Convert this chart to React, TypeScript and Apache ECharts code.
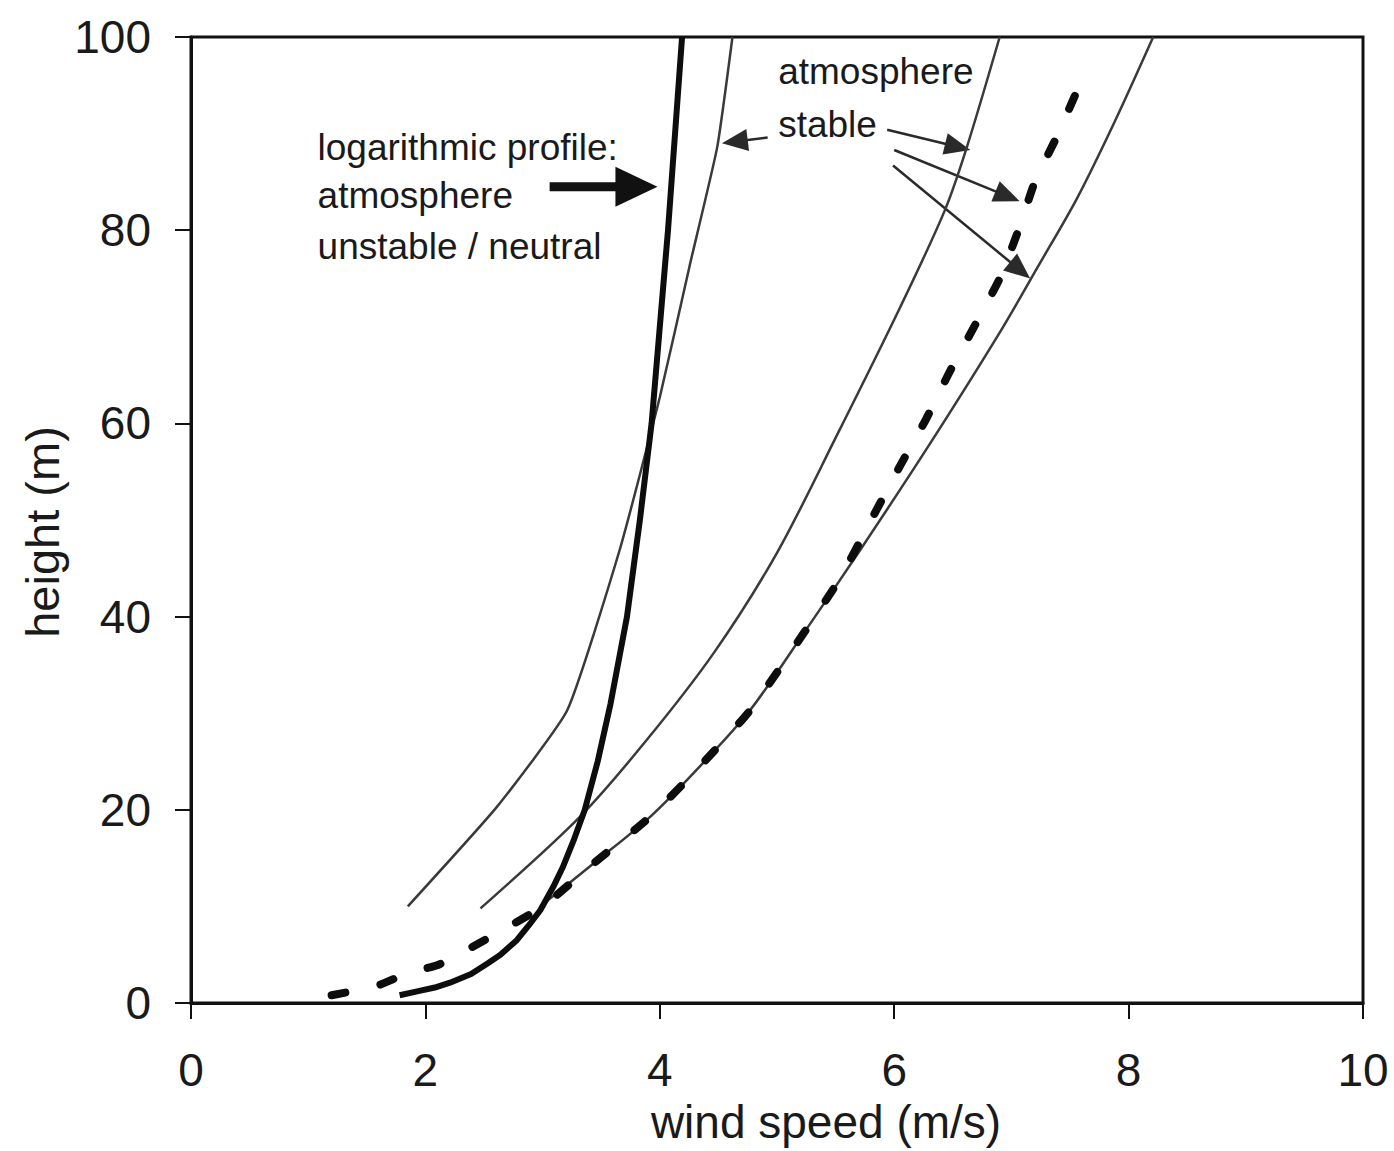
import React, { useEffect, useRef } from "react";
import * as echarts from "echarts";

// Logarithmic profile (unstable / neutral atmosphere)
const logSpeed = [1.78, 1.93, 2.08, 2.21, 2.39, 2.53, 2.64, 2.78, 2.88, 2.98, 3.09, 3.17, 3.27, 3.36, 3.47, 3.58, 3.72, 3.83, 3.93, 4.0, 4.07, 4.13, 4.19];
const logHeight = [0.8, 1.2, 1.6, 2.1, 3, 4.1, 5, 6.5, 8, 9.6, 12, 14, 17, 20, 25, 31, 40, 50, 60, 70, 80, 90, 100];

// Stable atmosphere profiles
const stableASpeed = [1.85, 2.61, 3.21, 3.66, 4.0, 4.26, 4.49, 4.62];
const stableAHeight = [10, 20.3, 30.3, 47, 62.7, 76.6, 88.6, 100];

const stableBSpeed = [2.47, 3.32, 3.9, 4.47, 5.0, 5.5, 6.05, 6.43, 6.62, 6.9];
const stableBHeight = [9.8, 19.3, 27.4, 36.4, 46.6, 58.5, 72, 82, 88.6, 100];

const stableCSpeed = [2.98, 3.45, 3.92, 4.35, 4.77, 5.24, 5.71, 6.3, 6.9, 7.23, 7.56, 7.88, 8.21];
const stableCHeight = [10, 14.6, 19.3, 24.6, 30.3, 38.5, 46.9, 57.8, 69.4, 76.3, 83.3, 91.2, 100];

// Measured profile (dashed)
const measuredSpeed = [1.2, 1.59, 1.87, 2.1, 2.31, 2.62, 3.0, 3.45, 3.92, 4.35, 4.77, 5.24, 5.54, 5.79, 6.05, 6.27, 6.48, 6.7, 6.9, 7.06, 7.2, 7.38, 7.57];
const measuredHeight = [0.8, 1.8, 3.2, 3.9, 5.2, 7.3, 10, 14.6, 19.3, 24.6, 30.3, 38.5, 44, 49.7, 55.6, 60.4, 65.5, 70.4, 75, 80, 85, 89.5, 94.7];

// Annotation texts and arrows, in data coordinates
const unstableLines = ["logarithmic profile:", "atmosphere", "unstable / neutral"];
const unstableTextX = 1.08;
const unstableTextY = [88.6, 83.6, 78.3];
const stableLines = ["atmosphere", "stable"];
const stableTextX = 5.01;
const stableTextY = [96.4, 90.9];

const thickArrow = { from: [3.06, 84.5], to: [3.98, 84.5] };
const thinArrows = [
  { from: [4.92, 89.6], to: [4.53, 89.0] },
  { from: [5.94, 90.4], to: [6.65, 88.3] },
  { from: [6.0, 88.3], to: [7.07, 83.0] },
  { from: [5.99, 86.7], to: [7.16, 75.0] },
];

const FONT = "'Liberation Sans', Arial, Helvetica, sans-serif";
const INK = "#1a1a1a";

const pairs = (xs: number[], ys: number[]) => xs.map((x, i) => [x, ys[i]]);

function arrowElements(
  p0: number[],
  p1: number[],
  width: number,
  headLen: number,
  headWidth: number,
  color: string
) {
  const dx = p1[0] - p0[0];
  const dy = p1[1] - p0[1];
  const len = Math.hypot(dx, dy) || 1;
  const ux = dx / len;
  const uy = dy / len;
  const bx = p1[0] - ux * headLen;
  const by = p1[1] - uy * headLen;
  const px = -uy * (headWidth / 2);
  const py = ux * (headWidth / 2);
  return [
    {
      type: "line",
      shape: { x1: p0[0], y1: p0[1], x2: bx + ux * 2, y2: by + uy * 2 },
      style: { stroke: color, lineWidth: width },
      silent: true,
    },
    {
      type: "polygon",
      shape: {
        points: [
          [p1[0], p1[1]],
          [bx + px, by + py],
          [bx - px, by - py],
        ],
      },
      style: { fill: color },
      silent: true,
    },
  ];
}

export default function App() {
  const ref = useRef<HTMLDivElement>(null);

  useEffect(() => {
    document.body.style.margin = "0";
    if (!ref.current) return;
    const chart = echarts.init(ref.current, null, { renderer: "svg" });

    const axisLabel = { fontSize: 46, color: INK, fontFamily: FONT };

    chart.setOption({
      animation: false,
      backgroundColor: "#ffffff",
      grid: {
        left: 191,
        right: 31,
        top: 37,
        bottom: 148,
        show: true,
        borderColor: "#111",
        borderWidth: 3,
        backgroundColor: "transparent",
      },
      xAxis: {
        type: "value",
        min: 0,
        max: 10,
        interval: 2,
        axisLine: { onZero: false, lineStyle: { color: "#111", width: 3 } },
        axisTick: { show: true, length: 16, lineStyle: { color: "#111", width: 2 } },
        axisLabel: { ...axisLabel, margin: 44 },
        splitLine: { show: false },
      },
      yAxis: {
        type: "value",
        min: 0,
        max: 100,
        interval: 20,
        axisLine: { onZero: false, lineStyle: { color: "#111", width: 3 } },
        axisTick: { show: true, length: 16, lineStyle: { color: "#111", width: 2 } },
        axisLabel: { ...axisLabel, margin: 40 },
        splitLine: { show: false },
      },
      series: [
        {
          name: "stable A",
          type: "line",
          data: pairs(stableASpeed, stableAHeight),
          showSymbol: false,
          smooth: 0.15,
          lineStyle: { color: "#3a3a3a", width: 2.5 },
          z: 2,
        },
        {
          name: "stable B",
          type: "line",
          data: pairs(stableBSpeed, stableBHeight),
          showSymbol: false,
          smooth: 0.3,
          lineStyle: { color: "#3a3a3a", width: 2.5 },
          z: 2,
        },
        {
          name: "stable C",
          type: "line",
          data: pairs(stableCSpeed, stableCHeight),
          showSymbol: false,
          smooth: 0.3,
          lineStyle: { color: "#3a3a3a", width: 2.5 },
          z: 2,
        },
        {
          name: "logarithmic",
          type: "line",
          data: pairs(logSpeed, logHeight),
          showSymbol: false,
          smooth: false,
          lineStyle: { color: "#0d0d0d", width: 6, join: "round" },
          z: 3,
        },
        {
          name: "measured",
          type: "line",
          data: pairs(measuredSpeed, measuredHeight),
          showSymbol: false,
          smooth: 0.2,
          lineStyle: { color: "#0d0d0d", width: 8, type: [14, 36], cap: "round" },
          z: 4,
        },
      ],
    });

    const toPx = (p: number[]) => chart.convertToPixel({ gridIndex: 0 }, p) as number[];

    const graphics: any[] = [];

    // Axis titles
    graphics.push({
      type: "text",
      x: 826,
      y: 1122,
      style: {
        text: "wind speed (m/s)",
        fontSize: 46,
        fontFamily: FONT,
        fill: INK,
        align: "center",
        verticalAlign: "middle",
      },
      silent: true,
    });
    graphics.push({
      type: "text",
      x: 42,
      y: 532,
      rotation: Math.PI / 2,
      style: {
        text: "height (m)",
        fontSize: 47,
        fontFamily: FONT,
        fill: INK,
        align: "center",
        verticalAlign: "middle",
      },
      silent: true,
    });

    // Annotation text
    unstableLines.forEach((t, i) => {
      const p = toPx([unstableTextX, unstableTextY[i]]);
      graphics.push({
        type: "text",
        x: p[0],
        y: p[1],
        style: { text: t, fontSize: 37, fontFamily: FONT, fill: INK, align: "left", verticalAlign: "middle" },
        silent: true,
      });
    });
    stableLines.forEach((t, i) => {
      const p = toPx([stableTextX, stableTextY[i]]);
      graphics.push({
        type: "text",
        x: p[0],
        y: p[1],
        style: { text: t, fontSize: 37, fontFamily: FONT, fill: INK, align: "left", verticalAlign: "middle" },
        silent: true,
      });
    });

    // Arrows
    graphics.push(
      ...arrowElements(toPx(thickArrow.from), toPx(thickArrow.to), 9, 42, 40, "#111")
    );
    thinArrows.forEach((a) => {
      graphics.push(...arrowElements(toPx(a.from), toPx(a.to), 2.5, 26, 22, "#2a2a2a"));
    });

    chart.setOption({ graphic: { elements: graphics } });

    return () => chart.dispose();
  }, []);

  return <div ref={ref} style={{ width: 1394, height: 1151 }} />;
}
